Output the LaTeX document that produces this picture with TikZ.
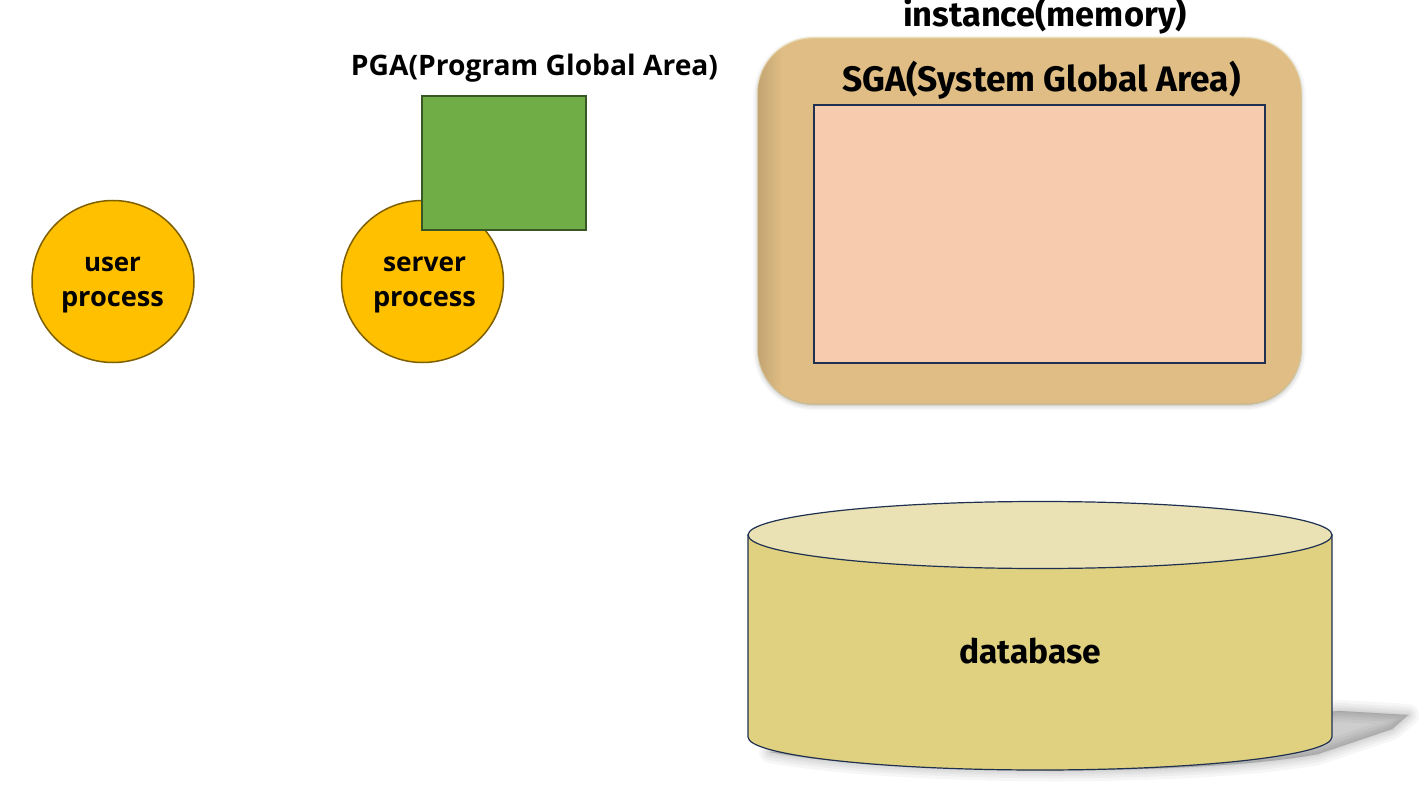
\documentclass[tikz,border=0pt]{standalone}
\usepackage{fontspec}
\setmainfont{Open Sans}
\newfontfamily\firafont{Fira Sans}
\usetikzlibrary{shadows.blur,shapes.geometric}
\definecolor{procfill}{HTML}{FFC000}
\definecolor{procline}{HTML}{7F6000}
\definecolor{pgafill}{HTML}{70AD47}
\definecolor{pgaline}{HTML}{385723}
\definecolor{instfill}{HTML}{DFBD84}
\definecolor{insttop}{HTML}{F6E2A6}
\definecolor{sgafill}{HTML}{F7CBAD}
\definecolor{navy}{HTML}{1F3050}
\definecolor{dbside}{HTML}{DFD17F}
\definecolor{dbtop}{HTML}{EAE2B4}
\tikzset{
  procnode/.style={circle, draw=procline, line width=1.5pt, fill=procfill, minimum size=162pt, inner sep=0pt},
  lbl/.style={inner sep=0pt, text=black, anchor=base},
}
\begin{document}
\begin{tikzpicture}[x=1pt,y=-1pt]
\useasboundingbox (0,0) rectangle (1427,810);
% processes
\node[procnode] (user) at (113,281.5) {};
\node[lbl] (usert1) at (112.5,272) {\resizebox{57pt}{!}{\bfseries user}};
\node[lbl] (usert2) at (112.5,307) {\resizebox{103pt}{!}{\bfseries process}};
\node[procnode] (server) at (422.5,281.5) {};
\node[lbl] (servert1) at (424.5,272) {\resizebox{83pt}{!}{\bfseries server}};
\node[lbl] (servert2) at (424.5,307) {\resizebox{103pt}{!}{\bfseries process}};
% PGA
\node[draw=pgaline, line width=1.5pt, fill=pgafill, minimum width=164pt, minimum height=134pt, inner sep=0pt] (pga) at (504,163) {};
\node[lbl] (pgatxt) at (534.5,76) {\resizebox{367pt}{!}{\bfseries PGA(Program Global Area)}};
% instance
\fill[insttop, opacity=0.7] (757,37) [rounded corners=56pt] rectangle (1302,405);
\node[draw=none, fill=instfill, rounded corners=55pt, minimum width=543pt, minimum height=365pt, inner sep=0pt,
  blur shadow={shadow xshift=0pt, shadow yshift=-2pt, shadow blur radius=5pt, shadow opacity=30}] (inst) at (1029.5,221) {};
\begin{scope}
  \clip (758,38.5) [rounded corners=55pt] rectangle (1301,403.5);
  \shade[left color=instfill!87!black, right color=instfill] (757,30) rectangle (782,410);
\end{scope}
\node[lbl] (insttxt) at (1045,27) {\resizebox{284pt}{!}{\firafont\bfseries instance(memory)}};
\node[lbl] (sgatxt) at (1041.5,92) {\resizebox{398pt}{!}{\firafont\bfseries SGA(System Global Area)}};
\node[draw=navy, line width=1.5pt, fill=sgafill, minimum width=451pt, minimum height=258pt, inner sep=0pt] (sga) at (1039.5,234) {};
% database shadow (soft)
\foreach \w in {22,16,11,7,3,0} {
  \filldraw[black, opacity=0.035, line width=\w pt, line join=round]
     (770,752) .. controls (900,776) and (1200,776) .. (1318,754)
     -- (1392,729) -- (1408,715) -- (1340,711) -- cycle;
}
% database cylinder
\draw[draw=navy, line width=1.2pt, fill=dbside] (748,535) -- (748,737) arc[start angle=180, end angle=360, x radius=292pt, y radius=33pt] -- (1332,535) -- cycle;
\node[draw=navy, line width=1.2pt, fill=dbtop, ellipse, minimum width=584pt, minimum height=67pt, inner sep=0pt] (dbtopnode) at (1040,535) {};
\node[lbl] (db) at (1030,663) {\resizebox{142pt}{!}{\firafont\bfseries database}};
\end{tikzpicture}
\end{document}
